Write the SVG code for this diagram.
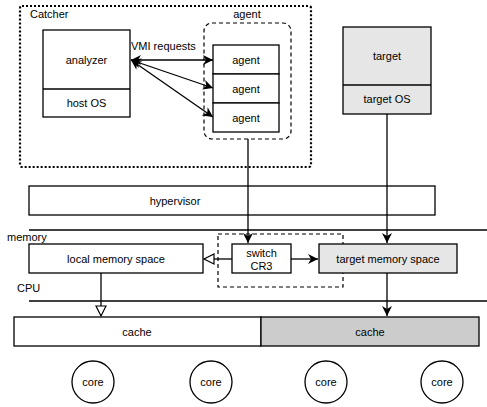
<svg xmlns="http://www.w3.org/2000/svg" width="487" height="407" viewBox="0 0 487 407">
<style>
  .box { fill: #ffffff; stroke: #000000; stroke-width: 1.3; }
  .grey { fill: #e6e6e6; stroke: #000000; stroke-width: 1.3; }
  .dark { fill: #cccccc; stroke: #000000; stroke-width: 1.3; }
  .ln { fill: none; stroke: #000000; stroke-width: 1.3; }
  text { font-family: "Liberation Sans", Arial, sans-serif; font-size: 11px; fill: #000000; }
  .c { text-anchor: middle; dominant-baseline: central; }
</style>
<defs>
  <marker id="arr" markerUnits="userSpaceOnUse" markerWidth="12" markerHeight="10" refX="10" refY="5" orient="auto-start-reverse">
    <path d="M0,0 L10,5 L0,10 L3,5 Z" fill="#000000"/>
  </marker>
  <marker id="open" markerUnits="userSpaceOnUse" markerWidth="14" markerHeight="12" refX="11" refY="6" orient="auto">
    <path d="M1,1 L11,6 L1,11 Z" fill="#ffffff" stroke="#000000" stroke-width="1.2"/>
  </marker>
</defs>

<g id="catcher">
  <rect x="20" y="6" width="291" height="161" rx="2" fill="none" stroke="#000000" stroke-width="2.2" stroke-dasharray="2 2"/>
  <text x="30" y="14" dominant-baseline="central">Catcher</text>
</g>

<g id="analyzer">
  <rect class="box" x="43" y="30" width="87" height="87"/>
  <line class="ln" x1="43" y1="89" x2="130" y2="89"/>
  <text class="c" x="86.5" y="60">analyzer</text>
  <text class="c" x="86.5" y="103">host OS</text>
</g>

<g id="agent-group">
  <rect x="204" y="23" width="87" height="116" rx="8" fill="none" stroke="#000000" stroke-width="1.2" stroke-dasharray="4 3"/>
  <text class="c" x="247" y="14">agent</text>
</g>

<g id="agent1">
  <rect class="box" x="213" y="45" width="66" height="29"/>
  <text class="c" x="246" y="60">agent</text>
</g>
<g id="agent2">
  <rect class="box" x="213" y="74" width="66" height="29"/>
  <text class="c" x="246" y="89">agent</text>
</g>
<g id="agent3">
  <rect class="box" x="213" y="103" width="66" height="29"/>
  <text class="c" x="246" y="118">agent</text>
</g>

<g id="target">
  <rect class="grey" x="343" y="27" width="88" height="87"/>
  <line class="ln" x1="343" y1="85" x2="431" y2="85"/>
  <text class="c" x="387" y="56">target</text>
  <text class="c" x="387" y="99">target OS</text>
</g>

<g id="hypervisor">
  <rect class="box" x="29" y="186" width="406" height="29"/>
  <text class="c" x="175" y="201">hypervisor</text>
</g>

<g id="memory-line">
  <line class="ln" x1="29" y1="230" x2="487" y2="230"/>
  <text x="7" y="237" dominant-baseline="central">memory</text>
</g>
<g id="cpu-line">
  <line class="ln" x1="29" y1="301" x2="487" y2="301"/>
  <text x="17" y="288" dominant-baseline="central">CPU</text>
</g>

<g id="local-memory">
  <rect class="box" x="29" y="244" width="174" height="29"/>
  <text class="c" x="116" y="259">local memory space</text>
</g>

<g id="switch-group">
  <rect x="218" y="234" width="125" height="53" fill="none" stroke="#000000" stroke-width="1.2" stroke-dasharray="4 3"/>
</g>

<g id="switch">
  <rect class="box" x="232" y="244" width="59" height="29"/>
  <text class="c" x="261.5" y="253">switch</text>
  <text class="c" x="261.5" y="266">CR3</text>
</g>

<g id="target-memory">
  <rect x="319" y="244" width="138" height="29" fill="#e6e6e6" stroke="#000000" stroke-width="1.3"/>
  <text class="c" x="388" y="259">target memory space</text>
</g>

<g id="cache-left">
  <rect class="box" x="14" y="317" width="247" height="29"/>
  <text class="c" x="137" y="331.5">cache</text>
</g>
<g id="cache-right">
  <rect class="dark" x="261" y="317" width="218" height="29"/>
  <text class="c" x="370" y="331.5">cache</text>
</g>

<g id="core1"><circle class="box" cx="93" cy="382" r="21"/><text class="c" x="93" y="382">core</text></g>
<g id="core2"><circle class="box" cx="211" cy="382" r="21"/><text class="c" x="211" y="382">core</text></g>
<g id="core3"><circle class="box" cx="326" cy="382" r="21"/><text class="c" x="326" y="382">core</text></g>
<g id="core4"><circle class="box" cx="442" cy="382" r="21"/><text class="c" x="442" y="382">core</text></g>

<g id="connectors">
  <text x="131" y="46" dominant-baseline="central">VMI requests</text>
  <line class="ln" x1="131" y1="60" x2="213" y2="60" marker-start="url(#arr)" marker-end="url(#arr)"/>
  <line class="ln" x1="131" y1="60" x2="213" y2="88" marker-start="url(#arr)" marker-end="url(#arr)"/>
  <line class="ln" x1="131" y1="60" x2="213" y2="117" marker-start="url(#arr)" marker-end="url(#arr)"/>
  <line class="ln" x1="248" y1="139" x2="248" y2="243" marker-end="url(#arr)"/>
  <line class="ln" x1="387" y1="114" x2="387" y2="243" marker-end="url(#arr)"/>
  <line class="ln" x1="232" y1="259" x2="204" y2="259" marker-end="url(#open)"/>
  <line class="ln" x1="291" y1="259" x2="318" y2="259" marker-end="url(#arr)"/>
  <line class="ln" x1="387" y1="273" x2="387" y2="316" marker-end="url(#arr)"/>
  <line class="ln" x1="101" y1="273" x2="101" y2="316" marker-end="url(#open)"/>
</g>
</svg>
